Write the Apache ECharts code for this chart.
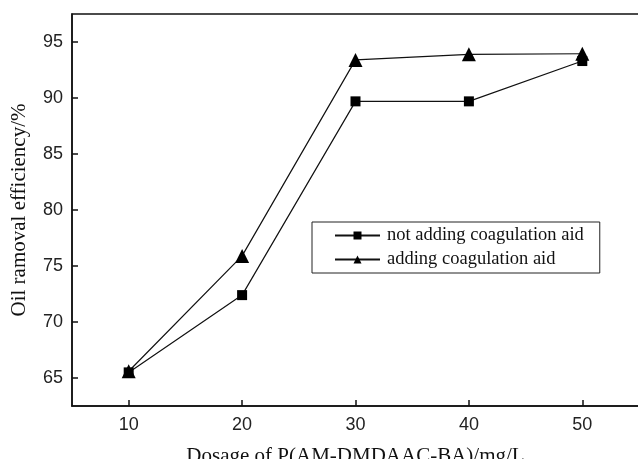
<!DOCTYPE html>
<html>
<head>
<meta charset="utf-8">
<script src="https://cdn.jsdelivr.net/npm/echarts@6/dist/echarts.min.js"></script>
<style>html,body{margin:0;padding:0;background:#fff;}#c{width:638px;height:459px;}</style>
</head>
<body>
<div id="c"></div>
<script>
var dosage = [10, 20, 30, 40, 50];
var notAdding = [65.5, 72.4, 89.7, 89.7, 93.3];
var adding = [65.6, 75.9, 93.4, 93.9, 93.95];
var yTicks = [65, 70, 75, 80, 85, 90, 95];
var seriesNames = ['not adding coagulation aid', 'adding coagulation aid'];
var xTitle = 'Dosage of P(AM-DMDAAC-BA)/mg/L';
var yTitle = 'Oil ramoval efficiency/%';

var serif = '"Liberation Serif", "Times New Roman", serif';
var sans = '"Liberation Sans", Arial, sans-serif';
var chart = echarts.init(document.getElementById('c'));
function pairs(xs, ys){ return xs.map(function(x,i){ return [x, ys[i]]; }); }
chart.setOption({
  animation: false,
  backgroundColor: '#fff',
  grid: { left: 72, top: 14, right: -1, bottom: 53, show: true, borderColor: '#111', borderWidth: 1.5,
          backgroundColor: 'transparent', outerBoundsMode: 'none', containLabel: false },
  legend: {
    left: 312, top: 222, orient: 'vertical',
    width: 290,
    padding: [4, 16, 4, 22],
    itemGap: 5,
    itemWidth: 45, itemHeight: 10,
    borderColor: '#222', borderWidth: 1,
    textStyle: { fontFamily: serif, fontSize: 18.5, color: '#111', padding: [0,0,0,2] },
    data: seriesNames
  },
  xAxis: {
    type: 'value', min: 5, max: 55,
    name: xTitle, nameLocation: 'middle', nameGap: 40,
    nameTextStyle: { fontFamily: serif, fontSize: 21, color: '#111' },
    axisLine: { show: true, lineStyle: { color: '#111', width: 1.5 } },
    axisTick: { inside: true, length: 6, lineStyle: { color: '#111', width: 1.5 }, customValues: dosage },
    axisLabel: { fontFamily: sans, fontSize: 18, color: '#222', margin: 10, customValues: dosage },
    splitLine: { show: false }
  },
  yAxis: {
    type: 'value', min: 62.5, max: 97.5,
    name: yTitle, nameLocation: 'middle', nameGap: 42,
    nameTextStyle: { fontFamily: serif, fontSize: 21, color: '#111' },
    axisLine: { show: true, lineStyle: { color: '#111', width: 1.5 } },
    axisTick: { inside: true, length: 6, lineStyle: { color: '#111', width: 1.5 }, customValues: yTicks },
    axisLabel: { fontFamily: sans, fontSize: 18, color: '#222', margin: 9, customValues: yTicks },
    splitLine: { show: false }
  },
  series: [
    { name: seriesNames[0], type: 'line', data: pairs(dosage, notAdding),
      symbol: 'rect', symbolSize: 10,
      lineStyle: { color: '#111', width: 1.2 }, itemStyle: { color: '#000' } },
    { name: seriesNames[1], type: 'line', data: pairs(dosage, adding),
      symbol: 'triangle', symbolSize: 14,
      lineStyle: { color: '#111', width: 1.2 }, itemStyle: { color: '#000' } }
  ]
});
</script>
</body>
</html>
